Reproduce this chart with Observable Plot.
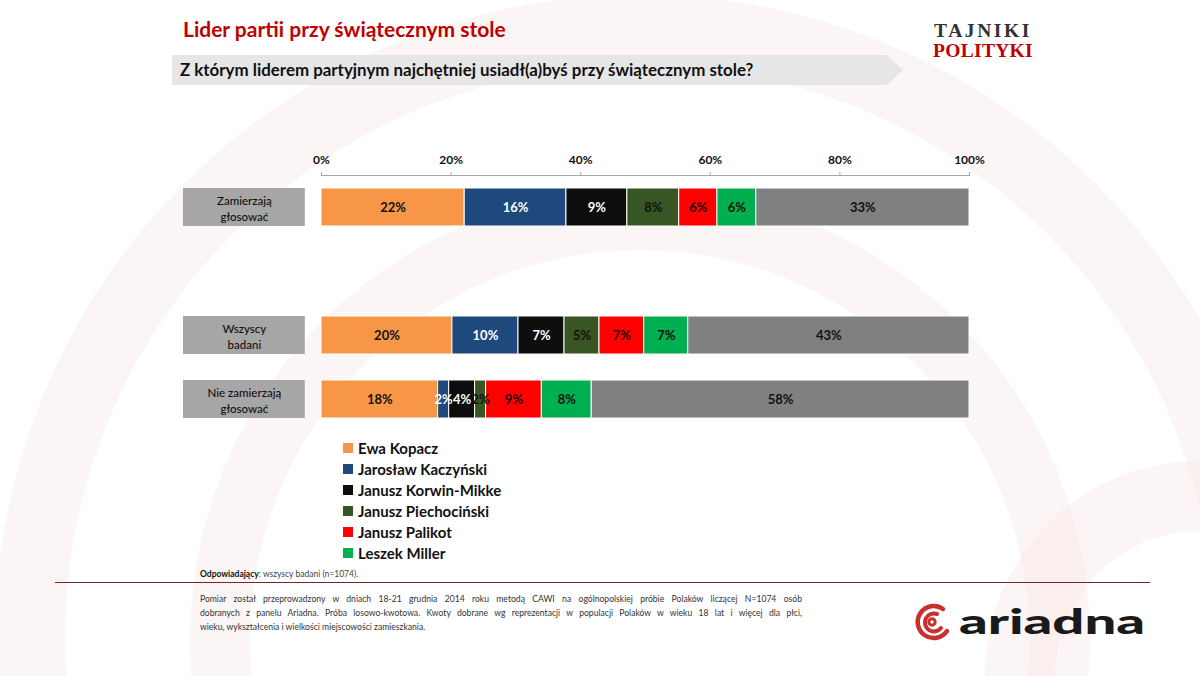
<!DOCTYPE html>
<html>
<head>
<meta charset="utf-8">
<script src="https://cdn.jsdelivr.net/npm/d3@7"></script>
<script src="https://cdn.jsdelivr.net/npm/@observablehq/plot@0.6"></script>
<style>
  html, body { margin: 0; padding: 0; }
  body { width: 1200px; height: 676px; position: relative; overflow: hidden; background: #fff; font-family: Lato, "Open Sans", sans-serif; }
  .abs { position: absolute; }
  #bg { left: 0; top: 0; }
  #title { left: 183px; top: 16px; font-size: 21px; font-weight: 700; color: #C00000; white-space: nowrap; }
  #band { left: 172px; top: 55px; width: 731px; height: 30px; background: #e7e6e6;
          clip-path: polygon(0 0, 715px 0, 731px 50%, 715px 100%, 0 100%); }
  #subtitle { left: 180px; top: 59px; font-size: 16.9px; font-weight: 700; color: #111; white-space: nowrap; }
  #tp { left: 929px; top: 21px; font-family: "Liberation Serif", "DejaVu Serif", serif; font-weight: 700; line-height: 20px; text-align: center; width: 108px; }
  #tp .a { color: #333; font-size: 19.5px; letter-spacing: 2.6px; }
  #tp .b { color: #C00000; font-size: 19.5px; letter-spacing: 0.3px; }
  #chart { left: 0; top: 140px; }
  #legend { left: 343px; top: 437px; }
  .li { height: 21px; display: flex; align-items: center; font-size: 15px; font-weight: 700; color: #111; white-space: nowrap; }
  .sw { width: 10px; height: 10px; margin-right: 5px; }
  #resp { left: 200px; top: 569px; font-size: 8.5px; color: #444; white-space: nowrap; }
  #resp b { color: #111; }
  #rule { left: 55px; top: 582px; width: 1095px; height: 0; border-top: 1.5px solid #7b2222; }
  #note { left: 200px; top: 592px; width: 602px; font-size: 8.6px; line-height: 14px; color: #333; }
  #note span { display: block; text-align: justify; text-align-last: justify; }
  #note span.last { text-align-last: left; }
  #ariadna { left: 913px; top: 601px; }
</style>
</head>
<body>
<svg id="bg" class="abs" width="1200" height="676">
  <g fill="none" stroke="#f4dede" stroke-opacity="0.3">
    <circle cx="640" cy="640" r="610" stroke-width="70"/>
    <circle cx="640" cy="640" r="420" stroke-width="60"/>
    <circle cx="1200" cy="676" r="180" stroke-width="70"/>
  </g>
</svg>
<div id="title" class="abs">Lider partii przy świątecznym stole</div>
<div id="band" class="abs"></div>
<div id="subtitle" class="abs">Z którym liderem partyjnym najchętniej usiadł(a)byś przy świątecznym stole?</div>
<div id="tp" class="abs"><div class="a">TAJNIKI</div><div class="b">POLITYKI</div></div>
<div id="chart" class="abs"></div>
<div id="legend" class="abs"></div>
<div id="resp" class="abs"><b>Odpowiadający</b>: wszyscy badani (n=1074).</div>
<div id="rule" class="abs"></div>
<div id="note" class="abs">
  <span>Pomiar został przeprowadzony w dniach 18-21 grudnia 2014 roku metodą CAWI na ogólnopolskiej próbie Polaków liczącej N=1074 osób</span>
  <span>dobranych z panelu Ariadna. Próba losowo-kwotowa. Kwoty dobrane wg reprezentacji w populacji Polaków w wieku 18 lat i więcej dla płci,</span>
  <span class="last">wieku, wykształcenia i wielkości miejscowości zamieszkania.</span>
</div>
<svg id="ariadna" class="abs" width="250" height="44">
  <g fill="none" stroke="#c9302c" stroke-linecap="round">
    <path d="M 30 8 A 16 16 0 1 0 34 30" stroke-width="4.5"/>
    <path d="M 24 13 A 9 9 0 1 0 28 27" stroke-width="4"/>
    <circle cx="19" cy="21" r="3.2" stroke-width="3"/>
  </g>
  <text x="46" y="33" font-family="Lato, sans-serif" font-weight="900" font-size="34" fill="#1a1a1a" textLength="186" lengthAdjust="spacingAndGlyphs">ariadna</text>
</svg>
<script>
// ---- data ----
const groups = ["Zamierzają głosować", "Wszyscy badani", "Nie zamierzają głosować"];
const groupLabels = ["Zamierzają\ngłosować", "Wszyscy\nbadani", "Nie zamierzają\ngłosować"];
const leaders = ["Ewa Kopacz", "Jarosław Kaczyński", "Janusz Korwin-Mikke", "Janusz Piechociński", "Janusz Palikot", "Leszek Miller", "Pozostali / trudno powiedzieć"];
const valuesZamierzaja = [22.1, 15.7, 9.4, 8.0, 5.9, 6.0, 32.9];
const valuesWszyscy = [20.2, 10.2, 7.1, 5.4, 6.9, 6.8, 43.4];
const valuesNie = [18.0, 1.7, 4.0, 1.7, 8.6, 7.7, 58.3];
const ticks = [0, 20, 40, 60, 80, 100];

// ---- styles ----
const colors = ["#F79646", "#1F497D", "#0D0D0D", "#375623", "#FF0000", "#00B050", "#808080"];
const labelColors = ["#111", "#fff", "#fff", "#111", "#2a0000", "#111", "#111"];

const seriesByGroup = [valuesZamierzaja, valuesWszyscy, valuesNie];
const data = [];
groups.forEach((g, gi) => leaders.forEach((l, li) => data.push({group: g, leader: l, value: seriesByGroup[gi][li], li})));
const catData = groups.map((g, i) => ({group: g, label: groupLabels[i]}));

const yDomain = [groups[0], " ", groups[1], groups[2]];

const chart = Plot.plot({
  width: 1200,
  height: 300,
  marginLeft: 321,
  marginRight: 231,
  marginTop: 35,
  marginBottom: 9,
  style: {fontFamily: "Lato, sans-serif", overflow: "visible"},
  x: {domain: [0, 100], axis: null},
  y: {domain: yDomain, paddingInner: 0.4, paddingOuter: 0.2, axis: null},
  color: {domain: leaders, range: colors},
  marks: [
    Plot.frame({anchor: "top", stroke: "#a6a6a6", strokeWidth: 1}),
    Plot.axisX(ticks, {anchor: "top", tickSize: 4, tickPadding: 8, stroke: "#a6a6a6",
      tickFormat: d => d + "%", fontSize: 12, fontWeight: "bold", fill: "#111", label: null}),
    Plot.barX(catData, {x1: -21.3, x2: -2.5, y: "group", fill: "#a6a6a6"}),
    Plot.text(catData, {x: -11.9, y: "group", text: "label", fontSize: 11.5, lineHeight: 1.4, fill: "#111", fontWeight: 500}),
    Plot.barX(data, Plot.stackX({x: "value", y: "group", fill: "leader", order: leaders, stroke: "#fff", strokeWidth: 1})),
    Plot.text(data, Plot.stackX({x: "value", y: "group", order: leaders,
      text: d => Math.round(d.value) + "%", fill: d => labelColors[d.li],
      fontSize: 13, fontWeight: "bold"}))
  ]
});
document.getElementById("chart").appendChild(chart);

// legend (main six leaders)
const legend = document.getElementById("legend");
leaders.slice(0, 6).forEach((l, i) => {
  const row = document.createElement("div");
  row.className = "li";
  row.innerHTML = `<div class="sw" style="background:${colors[i]}"></div><span>${l}</span>`;
  legend.appendChild(row);
});
</script>
</body>
</html>
